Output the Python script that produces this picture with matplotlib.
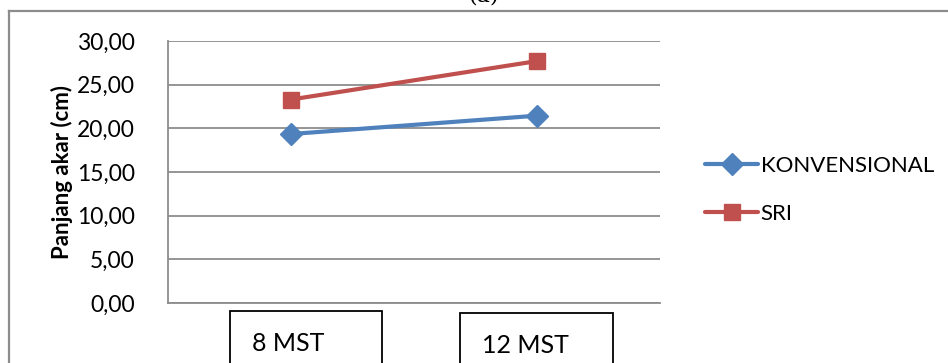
import matplotlib
matplotlib.use("Agg")
import matplotlib.pyplot as plt
from matplotlib.patches import Rectangle
from matplotlib.lines import Line2D

# Data
categories = ["8 MST", "12 MST"]
konvensional = [19.35, 21.45]
sri = [23.3, 27.7]
yticks = [0, 5, 10, 15, 20, 25, 30]

W, H = 948, 363
fig = plt.figure(figsize=(W / 100, H / 100), dpi=100)
plt.rcParams["font.family"] = ["Lato", "DejaVu Sans"]

def fx(px):
    return px / W

def fy(py):
    return 1 - py / H

# Outer chart frame (extends past the right and bottom edges)
fig.add_artist(Line2D([fx(9), fx(9)], [fy(11), fy(H + 5)], color="#8c8c8c", lw=1.6))
fig.add_artist(Line2D([fx(9), fx(W + 5)], [fy(11), fy(11)], color="#8c8c8c", lw=1.6))

# Caption at top, mostly clipped
fig.text(fx(484), fy(-4), "(a)", family="DejaVu Serif", fontsize=16, ha="center", va="center")

ax = fig.add_axes([fx(168), fy(303), fx(660) - fx(168), fy(41) - fy(303)])
x = list(range(len(categories)))
ax.plot(x, konvensional, color="#4F81BD", lw=3, marker="D", markersize=11,
        label="KONVENSIONAL", solid_capstyle="round")
ax.plot(x, sri, color="#C0504D", lw=3, marker="s", markersize=12,
        label="SRI", solid_capstyle="round")

ax.set_xlim(-0.5, len(categories) - 0.5)
ax.set_ylim(0, 30)
ax.set_yticks(yticks)
ax.set_yticklabels([f"{v:.2f}".replace(".", ",") for v in yticks], fontsize=16.5)
ax.tick_params(axis="y", length=0, pad=24)
ax.set_xticks([])
ax.grid(axis="y", color="#8c8c8c", lw=1.3)
ax.set_axisbelow(True)
for s in ["top", "right"]:
    ax.spines[s].set_visible(False)
for s in ["left", "bottom"]:
    ax.spines[s].set_color("#8c8c8c")
    ax.spines[s].set_linewidth(1.3)
ax.set_ylabel("Panjang akar (cm)", fontsize=16, fontweight="bold", labelpad=3)

# Category labels in boxed text frames
box_geom = [(230, 311, 382), (460, 313, 613)]
for (x0, y0, x1), lab in zip(box_geom, categories):
    fig.add_artist(Rectangle((fx(x0), fy(H + 5)), fx(x1) - fx(x0), fy(y0) - fy(H + 5),
                             fill=False, edgecolor="black", lw=1.3))
    fig.text(fx(x0 + 22), fy(y0 + 40), lab, fontsize=18, ha="left", va="baseline")

leg = fig.legend(loc="center left", bbox_to_anchor=(fx(694), fy(190)), frameon=False,
                 fontsize=16, handlelength=2.4, handletextpad=0.1, labelspacing=1.25,
                 borderpad=0)

fig.savefig("out.png", dpi=100)
